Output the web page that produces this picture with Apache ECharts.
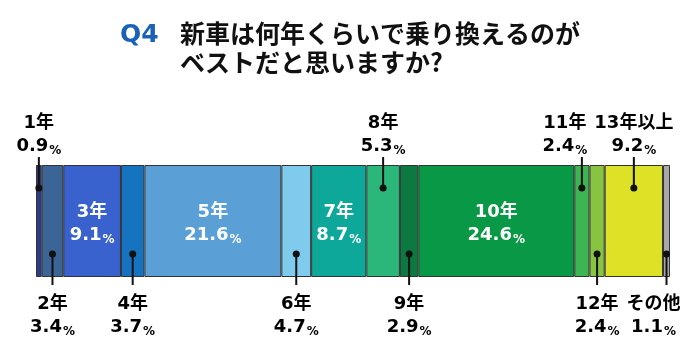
<!DOCTYPE html>
<html><head><meta charset="utf-8">
<script src="https://cdn.jsdelivr.net/npm/echarts@6/dist/echarts.min.js"></script>
<style>html,body{margin:0;padding:0;background:#fff}#c{width:700px;height:353px}</style>
</head><body><div id="c"></div>
<script>
const titleQ = 'Q4';
const titleText = '新車は何年くらいで乗り換えるのが\nベストだと思いますか?';
const categories = ['1年','2年','3年','4年','5年','6年','7年','8年','9年','10年','11年','12年','13年以上','その他'];
const values = [0.9,3.4,9.1,3.7,21.6,4.7,8.7,5.3,2.9,24.6,2.4,2.4,9.2,1.1];
const labelPlacement = ['top','bottom','inside','bottom','inside','bottom','inside','top','bottom','inside','top','bottom','top','bottom'];
const colors = ['#2c3b8e','#3b6597','#3a62cf','#1673bf','#5aa0d6','#7ecbee','#0ea89b','#2bb77a','#0c7a40','#089846','#3db553','#88c442','#dde226','#a9a9a9'];

const NUMFONT = "'DejaVu Sans','Noto Sans CJK JP',sans-serif";
const labelShift = {'11年': -17, 'その他': -13};

function richStyles(color){
  return {
    n: {fontFamily: NUMFONT, fontWeight: 'bold', fontSize: 18, color: color, lineHeight: 23},
    v: {fontFamily: NUMFONT, fontWeight: 'bold', fontSize: 18, color: color, lineHeight: 23},
    p: {fontFamily: NUMFONT, fontWeight: 'bold', fontSize: 12, color: color, lineHeight: 23, verticalAlign: 'bottom', padding: [0,0,1,1]}
  };
}
function fmt(i){ return '{n|' + categories[i] + '}\n{v|' + values[i].toFixed(1) + '}{p|%}'; }

const series = categories.map(function(name, i){
  return {
    name: name, type: 'bar', stack: 'total', barWidth: '100%',
    data: [values[i]],
    itemStyle: {color: colors[i], borderColor: '#333', borderWidth: 1},
    label: {
      show: labelPlacement[i] === 'inside', position: 'inside', offset: [0, 3],
      formatter: function(){ return fmt(i); },
      rich: richStyles('#fff'), align: 'center'
    },
    emphasis: {disabled: true}, animation: false
  };
});

// cumulative centers for outside labels
const calloutData = [];
let acc = 0;
values.forEach(function(v, i){
  if (labelPlacement[i] !== 'inside') calloutData.push([acc + v/2, i]);
  acc += v;
});

series.push({
  type: 'custom', coordinateSystem: 'cartesian2d', clip: false, z: 5, animation: false,
  data: calloutData,
  encode: {x: 0},
  renderItem: function(params, api){
    const idx = api.value(1);
    const side = labelPlacement[idx];
    const pt = api.coord([api.value(0), 0]);
    const h = api.size([0, 1])[1];
    const top = pt[1] - h/2, bottom = pt[1] + h/2;
    const x = pt[0];
    const shift = labelShift[categories[idx]] || 0;
    let dotY, lineEnd, textY, vAlign;
    if (side === 'top') { dotY = top + 23; lineEnd = top - 8; textY = top - 7; vAlign = 'bottom'; }
    else { dotY = bottom - 23; lineEnd = bottom + 8; textY = bottom + 16; vAlign = 'top'; }
    return {type: 'group', children: [
      {type: 'line', shape: {x1: x, y1: dotY, x2: x, y2: lineEnd}, style: {stroke: '#111', lineWidth: 2}},
      {type: 'circle', shape: {cx: x, cy: dotY, r: 3.5}, style: {fill: '#111'}},
      {type: 'text', style: {x: x + shift, y: textY, text: fmt(idx), align: 'center', verticalAlign: vAlign, rich: richStyles('#111')}}
    ]};
  }
});

const chart = echarts.init(document.getElementById('c'), null, {renderer: 'canvas'});
chart.setOption({
  animation: false,
  backgroundColor: '#fff',
  title: [
    {text: titleQ, left: 115, top: 16, textStyle: {color: '#1b62b6', fontSize: 25, fontWeight: 'bold', fontFamily: "'DejaVu Sans',sans-serif", lineHeight: 28}},
    {text: titleText, left: 175, top: 14, textStyle: {color: '#111', fontSize: 25, fontWeight: 'bold', fontFamily: "'Noto Sans CJK JP',sans-serif", lineHeight: 29}}
  ],
  grid: {left: 36, right: 30, top: 165, height: 112, containLabel: false},
  xAxis: {type: 'value', min: 0, max: 100, show: false},
  yAxis: {type: 'category', data: ['Q4'], show: false},
  tooltip: {show: false},
  series: series
});
</script></body></html>
